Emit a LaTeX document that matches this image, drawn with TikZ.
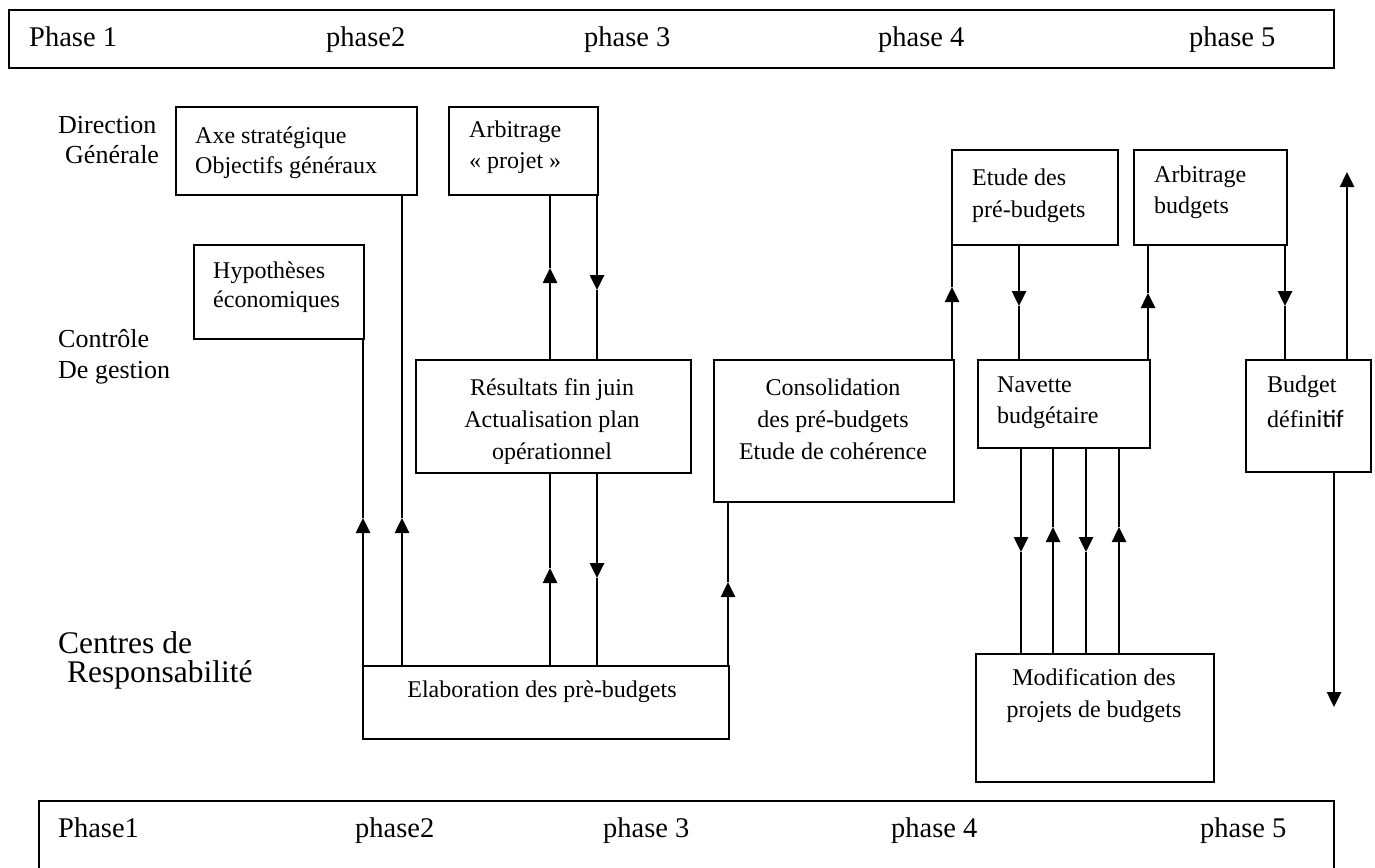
\documentclass[tikz,border=0pt]{standalone}
\usepackage{fontspec}
\setmainfont{Liberation Serif}
\newfontfamily\sansalt{Carlito}
\usetikzlibrary{arrows.meta}

\tikzset{
  band/.style={draw, line width=2.2pt, anchor=north west, inner sep=0pt},
  box/.style={draw, line width=1.7pt, anchor=north west, inner sep=0pt},
  phase/.style={anchor=base west, inner sep=0pt, font=\fontsize{28.5}{32}\selectfont},
  side/.style={anchor=base west, inner sep=0pt, font=\fontsize{26}{30}\selectfont},
  sidebig/.style={anchor=base west, inner sep=0pt, font=\fontsize{31.5}{35}\selectfont},
  txt/.style={anchor=base west, inner sep=0pt, font=\fontsize{24}{28}\selectfont},
  ctxt/.style={txt, anchor=base},
  link/.style={line width=1.7pt},
  flow/.style={line width=2.6pt, -{Triangle[width=14pt,length=15pt]}},
}

\begin{document}
\begin{tikzpicture}[x=1pt,y=-1pt]
\useasboundingbox (0,0) rectangle (1375,867);

% phase bands
\node[band, minimum width=1325pt, minimum height=58pt] (topband) at (8,9) {};
\node[phase] (tp1) at (29,47) {Phase 1};
\node[phase] (tp2) at (326,47) {phase2};
\node[phase] (tp3) at (584,47) {phase 3};
\node[phase] (tp4) at (878,47) {phase 4};
\node[phase] (tp5) at (1189,47) {phase 5};

\node[band, minimum width=1295pt, minimum height=100pt] (botband) at (38,800) {};
\node[phase] (bp1) at (58,837) {Phase1};
\node[phase] (bp2) at (355,837) {phase2};
\node[phase] (bp3) at (603,837) {phase 3};
\node[phase] (bp4) at (891,837) {phase 4};
\node[phase] (bp5) at (1200,837) {phase 5};

% actors
\node[side] (dg1) at (58,133) {Direction};
\node[side] (dg2) at (65,163) {Générale};
\node[side] (cg1) at (58,347) {Contrôle};
\node[side] (cg2) at (58,378) {De gestion};
\node[sidebig] (cr1) at (58,653) {Centres de};
\node[sidebig] (cr2) at (67,682) {Responsabilité};

% boxes
\node[box, minimum width=241pt, minimum height=88pt] (axe) at (175,106) {};
\node[txt] (axe1) at (195,143) {Axe stratégique};
\node[txt] (axe2) at (195,173) {Objectifs généraux};

\node[box, minimum width=149pt, minimum height=88pt] (arbp) at (448,106) {};
\node[txt] (arbp1) at (469,137) {Arbitrage};
\node[txt] (arbp2) at (469,168) {« projet »};

\node[box, minimum width=170pt, minimum height=94pt] (hyp) at (193,244) {};
\node[txt] (hyp1) at (213,278) {Hypothèses};
\node[txt] (hyp2) at (213,307) {économiques};

\node[box, minimum width=275pt, minimum height=113pt] (res) at (415,359) {};
\node[ctxt] (res1) at (552,395) {Résultats fin juin};
\node[ctxt] (res2) at (552,427) {Actualisation plan};
\begin{scope}
  \clip (416,360) rectangle (689,463);
  \node[ctxt] (res3) at (552,459) {opérationnel};
\end{scope}

\node[box, minimum width=366pt, minimum height=73pt] (elab) at (362,665) {};
\node[ctxt] (elab1) at (542,697) {Elaboration des prè-budgets};

\node[box, minimum width=240pt, minimum height=142pt] (cons) at (713,359) {};
\node[ctxt] (cons1) at (833,395) {Consolidation};
\node[ctxt] (cons2) at (833,427) {des pré-budgets};
\node[ctxt] (cons3) at (833,459) {Etude de cohérence};

\node[box, minimum width=166pt, minimum height=95pt] (etude) at (951,149) {};
\node[txt] (etude1) at (972,185) {Etude des};
\node[txt] (etude2) at (972,217) {pré-budgets};

\node[box, minimum width=153pt, minimum height=95pt] (arbb) at (1133,149) {};
\node[txt] (arbb1) at (1154,182) {Arbitrage};
\node[txt] (arbb2) at (1154,213) {budgets};

\node[box, minimum width=172pt, minimum height=88pt] (nav) at (977,359) {};
\node[txt] (nav1) at (997,392) {Navette};
\node[txt] (nav2) at (997,423) {budgétaire};

\node[box, minimum width=125pt, minimum height=112pt] (bud) at (1245,359) {};
\node[txt] (bud1) at (1267,392) {Budget};
\node[txt] (bud2) at (1267,427) {défin{\sansalt\fontsize{25}{28}\selectfont itif}};

\node[box, minimum width=238pt, minimum height=128pt] (mod) at (975,653) {};
\node[ctxt] (mod1) at (1094,685) {Modification des};
\node[ctxt] (mod2) at (1094,717) {projets de budgets};

% arrow tips
\coordinate (a1) at (363,518);
\coordinate (a2) at (402,518);
\coordinate (a3) at (550,268);
\coordinate (a4) at (597,290);
\coordinate (a5) at (550,568);
\coordinate (a6) at (597,578);
\coordinate (a7) at (728,582);
\coordinate (a8) at (952,287);
\coordinate (a9) at (1019,306);
\coordinate (a10) at (1148,293);
\coordinate (a11) at (1285,306);
\coordinate (a12) at (1347,172);
\coordinate (a13) at (1334,707);
\coordinate (n1) at (1021,552);
\coordinate (n2) at (1053,527);
\coordinate (n3) at (1086,552);
\coordinate (n4) at (1119,527);

% connectors
\draw[flow] (elab.north -| a1) -- (a1);
\draw[link] (a1) -- (hyp.south -| a1);
\draw[flow] (elab.north -| a2) -- (a2);
\draw[link] (a2) -- (axe.south -| a2);

\draw[flow] (res.north -| a3) -- (a3);
\draw[link] (a3) -- (arbp.south -| a3);
\draw[flow] (arbp.south -| a4) -- (a4);
\draw[link] (a4) -- (res.north -| a4);

\draw[flow] (elab.north -| a5) -- (a5);
\draw[link] (a5) -- (res.south -| a5);
\draw[flow] (res.south -| a6) -- (a6);
\draw[link] (a6) -- (elab.north -| a6);

\draw[flow] (elab.north -| a7) -- (a7);
\draw[link] (a7) -- (cons.south -| a7);

\draw[flow] (cons.north -| a8) -- (a8);
\draw[link] (a8) -- (etude.south -| a8);

\draw[flow] (etude.south -| a9) -- (a9);
\draw[link] (a9) -- (nav.north -| a9);

\draw[flow] (nav.north -| a10) -- (a10);
\draw[link] (a10) -- (arbb.south -| a10);

\draw[flow] (arbb.south -| a11) -- (a11);
\draw[link] (a11) -- (bud.north -| a11);

\draw[flow] (bud.north -| a12) -- (a12);
\draw[flow] (bud.south -| a13) -- (a13);

\draw[flow] (nav.south -| n1) -- (n1);
\draw[link] (n1) -- (mod.north -| n1);
\draw[flow] (mod.north -| n2) -- (n2);
\draw[link] (n2) -- (nav.south -| n2);
\draw[flow] (nav.south -| n3) -- (n3);
\draw[link] (n3) -- (mod.north -| n3);
\draw[flow] (mod.north -| n4) -- (n4);
\draw[link] (n4) -- (nav.south -| n4);
\end{tikzpicture}
\end{document}
